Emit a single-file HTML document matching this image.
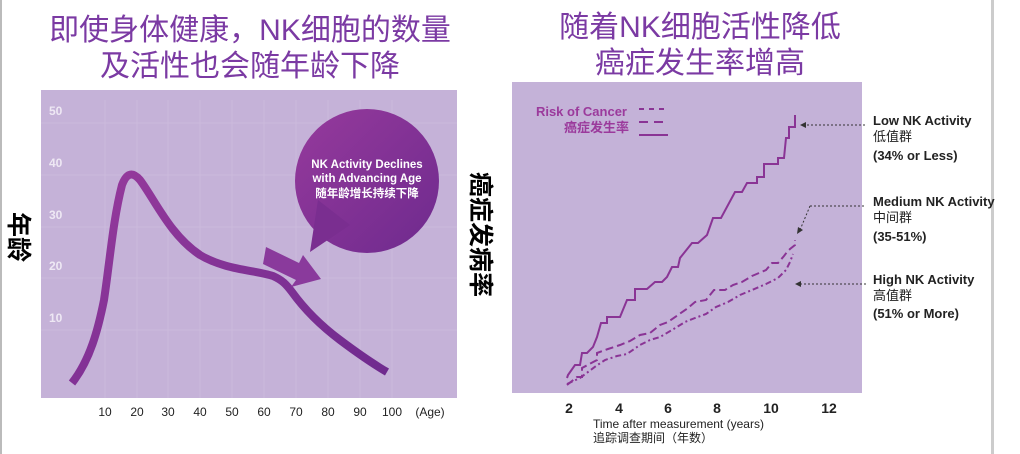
<!DOCTYPE html><html><head><meta charset="utf-8"><style>
body{margin:0;width:1020px;height:454px;background:#fff;overflow:hidden;position:relative;font-family:"Liberation Sans","Noto Sans CJK SC",sans-serif}
.t{position:absolute;color:#7b3aa3;font-size:30px;text-align:center;line-height:36px}
.rot{position:absolute;font-weight:bold;font-size:25px;color:#000;transform:rotate(90deg);transform-origin:0 0;white-space:nowrap}
</style></head><body>
<div style="position:absolute;left:0;top:0;width:2px;height:454px;background:#bbb"></div>
<div style="position:absolute;left:991px;top:0;width:3px;height:454px;background:#ccc"></div>
<div class="t" style="left:0;width:500px;top:13px">即使身体健康，NK细胞的数量<br>及活性也会随年龄下降</div>
<div class="t" style="left:540px;width:320px;top:10px">随着NK细胞活性降低<br>癌症发生率增高</div>
<div class="rot" style="left:38px;top:212px">年龄</div>
<div class="rot" style="left:500px;top:172px">癌症发病率</div>
<svg width="1020" height="454" style="position:absolute;left:0;top:0" font-family="Liberation Sans, Noto Sans CJK SC, sans-serif">
<defs><linearGradient id="g" x1="0" y1="0" x2="1" y2="1"><stop offset="0" stop-color="#963a9c"/><stop offset="1" stop-color="#6e2a8e"/></linearGradient></defs>
<rect x="41" y="90" width="416" height="308" fill="#c5b2d8"/>
<g stroke="#cdbddd" stroke-width="1" opacity="0.8">
<line x1="41" y1="123" x2="457" y2="123"/><line x1="41" y1="175" x2="457" y2="175"/><line x1="41" y1="227" x2="457" y2="227"/><line x1="41" y1="278" x2="457" y2="278"/><line x1="41" y1="330" x2="457" y2="330"/>
<line x1="105" y1="100" x2="105" y2="398"/><line x1="137" y1="100" x2="137" y2="398"/><line x1="168" y1="100" x2="168" y2="398"/><line x1="200" y1="100" x2="200" y2="398"/><line x1="232" y1="100" x2="232" y2="398"/><line x1="264" y1="100" x2="264" y2="398"/><line x1="296" y1="100" x2="296" y2="398"/><line x1="328" y1="100" x2="328" y2="398"/><line x1="360" y1="100" x2="360" y2="398"/><line x1="392" y1="100" x2="392" y2="398"/>
</g>
<g fill="#eee8f4" font-size="12" font-weight="bold"><text x="49" y="115">50</text><text x="49" y="167">40</text><text x="49" y="219">30</text><text x="49" y="270">20</text><text x="49" y="322">10</text></g>
<g fill="#222" font-size="12" text-anchor="middle"><text x="105" y="416">10</text><text x="137" y="416">20</text><text x="168" y="416">30</text><text x="200" y="416">40</text><text x="232" y="416">50</text><text x="264" y="416">60</text><text x="296" y="416">70</text><text x="328" y="416">80</text><text x="360" y="416">90</text><text x="392" y="416">100</text><text x="430" y="416">(Age)</text></g>
<path d="M72,383 C90,360 98,330 104,300 C110,260 113,220 122,185 C127,172 133,172 140,180 C155,200 170,235 200,255 C225,270 255,270 273,276 C282,280 286,284 292,292 C305,310 320,325 340,340 C360,355 375,365 387,372" fill="none" stroke="url(#g)" stroke-width="8" stroke-linecap="butt"/>
<circle cx="367" cy="181" r="72" fill="url(#g)"/>
<path d="M318,200 L310,252 L350,225 Z" fill="#7a2e90"/>
<path d="M266,247 L299,263 L303,255 L321,279 L291,287 L296,280 L263,264 Z" fill="#8a3a9c"/>
<g fill="#fff" font-size="11.5" font-weight="bold" text-anchor="middle"><text x="367" y="168">NK Activity Declines</text><text x="367" y="182">with Advancing Age</text><text x="367" y="197">随年龄增长持续下降</text></g>
<rect x="512" y="82" width="350" height="311" fill="#c4b2d8"/>
<g fill="#9b3a9c" font-size="13" font-weight="bold" text-anchor="end"><text x="627" y="116">Risk of Cancer</text><text x="629" y="132">癌症发生率</text></g>
<g stroke="#8a3495" stroke-width="2"><line x1="639" y1="109" x2="668" y2="109" stroke-dasharray="5,5"/><line x1="639" y1="122" x2="668" y2="122" stroke-dasharray="9,6"/><line x1="639" y1="135" x2="668" y2="135"/></g>
<polyline fill="none" stroke="#8a3495" stroke-width="2" points="567,378 568,375 575,365 580,365 582,353 587,353 593,347 597,337 601,323 607,323 607,317 620,317 627,300 635,300 635,289 647,289 655,282 662,282 667,277 672,267 678,267 680,258 692,243 698,243 707,235 713,218 721,218 735,192 742,192 747,183 757,183 757,177 764,177 764,164 778,164 778,158 784,158 786,138 789,138 789,127 795,127 795,115"/>
<polyline fill="none" stroke="#8a3495" stroke-width="2" stroke-dasharray="8,4" points="567,385 577,377 582,377 582,368 597,360 597,353 608,349 620,345 630,341 640,335 650,333 660,325 668,322 678,315 688,308 695,302 706,300 714,290 725,290 733,285 742,282 752,276 766,270 772,263 778,263 784,256 787,252 790,249 795,245 795,240"/>
<polyline fill="none" stroke="#8a3495" stroke-width="2" stroke-dasharray="6,3,2,3" points="567,384 580,378 596,366 605,360 617,356 627,354 640,345 650,340 660,337 672,330 685,322 695,318 706,314 716,307 728,302 740,295 752,290 766,284 778,278 786,270 790,262 793,254"/>
<g stroke="#333" stroke-width="1" stroke-dasharray="2,2" fill="none"><line x1="803" y1="125" x2="866" y2="125"/><line x1="810" y1="206" x2="866" y2="206"/><path d="M810,206 L800,230"/><line x1="800" y1="284" x2="866" y2="284"/></g>
<g fill="#333"><path d="M800,125 L806,122 L806,128 Z"/><path d="M797,234 L798,227 L803,230 Z"/><path d="M795,284 L801,281 L801,287 Z"/></g>
<g fill="#222" font-size="13" font-weight="bold"><text x="873" y="125">Low NK Activity</text><text x="873" y="141" font-weight="normal">低值群</text><text x="873" y="160">(34% or Less)</text>
<text x="873" y="206">Medium NK Activity</text><text x="873" y="222" font-weight="normal">中间群</text><text x="873" y="241">(35-51%)</text>
<text x="873" y="284">High NK Activity</text><text x="873" y="300" font-weight="normal">高值群</text><text x="873" y="318">(51% or More)</text></g>
<g fill="#222" font-size="14" font-weight="bold" text-anchor="middle"><text x="569" y="413">2</text><text x="619" y="413">4</text><text x="668" y="413">6</text><text x="717" y="413">8</text><text x="771" y="413">10</text><text x="829" y="413">12</text></g>
<text x="593" y="428" font-size="12" fill="#222">Time after measurement (years)</text>
<text x="593" y="442" font-size="12" fill="#222">追踪调查期间（年数）</text>
</svg>
</body></html>
